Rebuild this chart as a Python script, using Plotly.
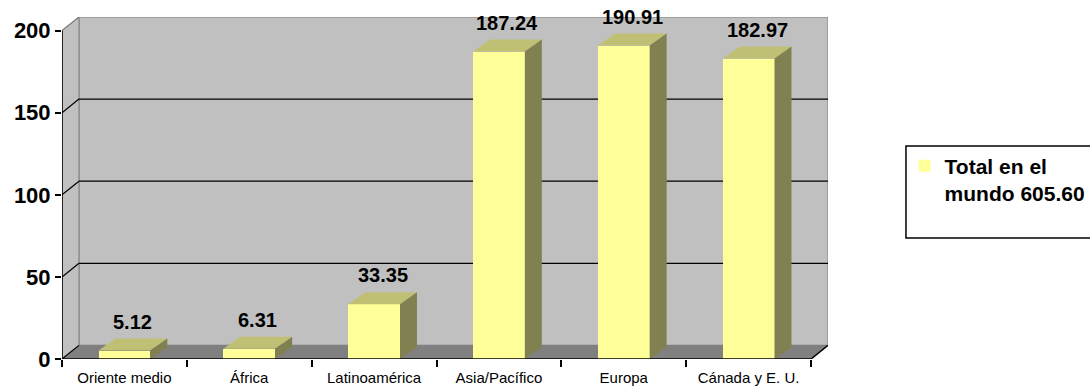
import plotly.graph_objects as go

categories = ["Oriente medio", "África", "Latinoamérica", "Asia/Pacífico", "Europa", "Cánada y E. U."]
values = [5.12, 6.31, 33.35, 187.24, 190.91, 182.97]
y_ticks = [0, 50, 100, 150, 200]
legend_label = "<b>Total en el<br>mundo 605.60</b>"

FRONT = "#FFFF99"
TOP = "#C0C075"
SIDE = "#808050"
WALL = "#C0C0C0"
FLOOR = "#808080"
EDGE = "#808080"
FONT = "Liberation Sans, Arial, sans-serif"

BAR_W = 0.415      # bar width (category units)
DX = 0.136         # depth offset, x (category units)
DY_WALL = 8.3      # depth offset of walls, y (value units)
DY_BAR = 7.3       # depth offset of bars, y (value units)

n = len(categories)
xs = list(range(n))
x_lo, x_hi = -0.5, n - 0.5
y_top = max(y_ticks)

fig = go.Figure()

fig.add_trace(go.Bar(
    x=xs, y=values, width=BAR_W,
    marker=dict(color=FRONT, line=dict(width=0)),
    name=legend_label, showlegend=True, hoverinfo="skip",
))

top_x, top_y, side_x, side_y = [], [], [], []
for x, v in zip(xs, values):
    l, r = x - BAR_W / 2, x + BAR_W / 2
    top_x += [l, r, r + DX, l + DX, l, None]
    top_y += [v, v, v + DY_BAR, v + DY_BAR, v, None]
    side_x += [r, r + DX, r + DX, r, r, None]
    side_y += [0, DY_BAR, v + DY_BAR, v, 0, None]

fig.add_trace(go.Scatter(x=top_x, y=top_y, fill="toself", fillcolor=TOP, mode="lines",
                         line=dict(width=0, color=TOP), showlegend=False, hoverinfo="skip"))
fig.add_trace(go.Scatter(x=side_x, y=side_y, fill="toself", fillcolor=SIDE, mode="lines",
                         line=dict(width=0, color=SIDE), showlegend=False, hoverinfo="skip"))

shapes = []
# back wall
shapes.append(dict(type="rect", xref="x", yref="y", x0=x_lo + DX, x1=x_hi + DX,
                   y0=DY_WALL, y1=y_top + DY_WALL, fillcolor=WALL,
                   line=dict(color=EDGE, width=1), layer="below"))
# left wall
shapes.append(dict(type="path", xref="x", yref="y",
                   path=f"M{x_lo},0 L{x_lo},{y_top} L{x_lo + DX},{y_top + DY_WALL} L{x_lo + DX},{DY_WALL} Z",
                   fillcolor=WALL, line=dict(color=EDGE, width=1), layer="below"))
# floor
shapes.append(dict(type="path", xref="x", yref="y",
                   path=f"M{x_lo},0 L{x_hi},0 L{x_hi + DX},{DY_WALL} L{x_lo + DX},{DY_WALL} Z",
                   fillcolor=FLOOR, line=dict(color=EDGE, width=1), layer="below"))
# gridlines on back wall
for v in y_ticks[1:-1]:
    shapes.append(dict(type="line", xref="x", yref="y", x0=x_lo + DX, x1=x_hi + DX,
                       y0=v + DY_WALL, y1=v + DY_WALL, line=dict(color="black", width=1.2), layer="below"))
# gridlines on side wall
for v in y_ticks:
    shapes.append(dict(type="line", xref="x", yref="y", x0=x_lo, x1=x_lo + DX,
                       y0=v, y1=v + DY_WALL,
                       line=dict(color=EDGE if v == y_top else "black", width=1.2), layer="below"))
# front axis lines
shapes.append(dict(type="line", xref="x", yref="y", x0=x_lo, x1=x_lo, y0=0, y1=y_top,
                   line=dict(color="black", width=1.5), layer="above"))
shapes.append(dict(type="line", xref="x", yref="y", x0=x_lo, x1=x_hi, y0=0, y1=0,
                   line=dict(color="black", width=1.5), layer="above"))
shapes.append(dict(type="line", xref="x", yref="y", x0=x_hi, x1=x_hi + DX, y0=0, y1=DY_WALL,
                   line=dict(color="black", width=1.5), layer="above"))
# legend box (extends past the right edge, as in the original)
shapes.append(dict(type="rect", xref="paper", yref="paper", x0=1.1018, x1=1.6,
                   y0=0.3538, y1=0.6228, line=dict(color="black", width=1.5),
                   fillcolor="rgba(0,0,0,0)"))

annotations = []
for x, v in zip(xs, values):
    annotations.append(dict(x=x + DX / 2, y=v + DY_BAR, xref="x", yref="y",
                            text=f"<b>{v:.2f}</b>", showarrow=False,
                            yanchor="bottom", yshift=4,
                            font=dict(family=FONT, size=20, color="black")))

fig.update_layout(
    width=1090, height=387,
    margin=dict(l=62, r=262, t=17, b=28, autoexpand=False),
    paper_bgcolor="white", plot_bgcolor="white",
    bargap=0,
    shapes=shapes, annotations=annotations,
    showlegend=True,
    legend=dict(x=1.1, xanchor="left", y=0.624, yanchor="top", valign="top",
                font=dict(family=FONT, size=21, color="black"),
                bgcolor="rgba(0,0,0,0)", borderwidth=0),
    xaxis=dict(range=[x_lo, x_hi + DX], tickmode="array", tickvals=xs, ticktext=categories,
               ticks="", showgrid=False, zeroline=False, showline=False,
               ticklabelstandoff=8, automargin=False,
               tickfont=dict(family=FONT, size=15, color="black"),
               minor=dict(tickmode="array", tickvals=[x_lo + i for i in range(n + 1)],
                          ticks="outside", ticklen=7, tickcolor="black", tickwidth=1.5, showgrid=False)),
    yaxis=dict(range=[0, y_top + DY_WALL], tickmode="array", tickvals=y_ticks,
               ticks="outside", ticklen=6, tickcolor="black", tickwidth=1.5,
               showgrid=False, zeroline=False, showline=False, automargin=False,
               tickfont=dict(family=FONT, size=22, color="black", weight="bold")),
)

fig.write_html("out.html")
